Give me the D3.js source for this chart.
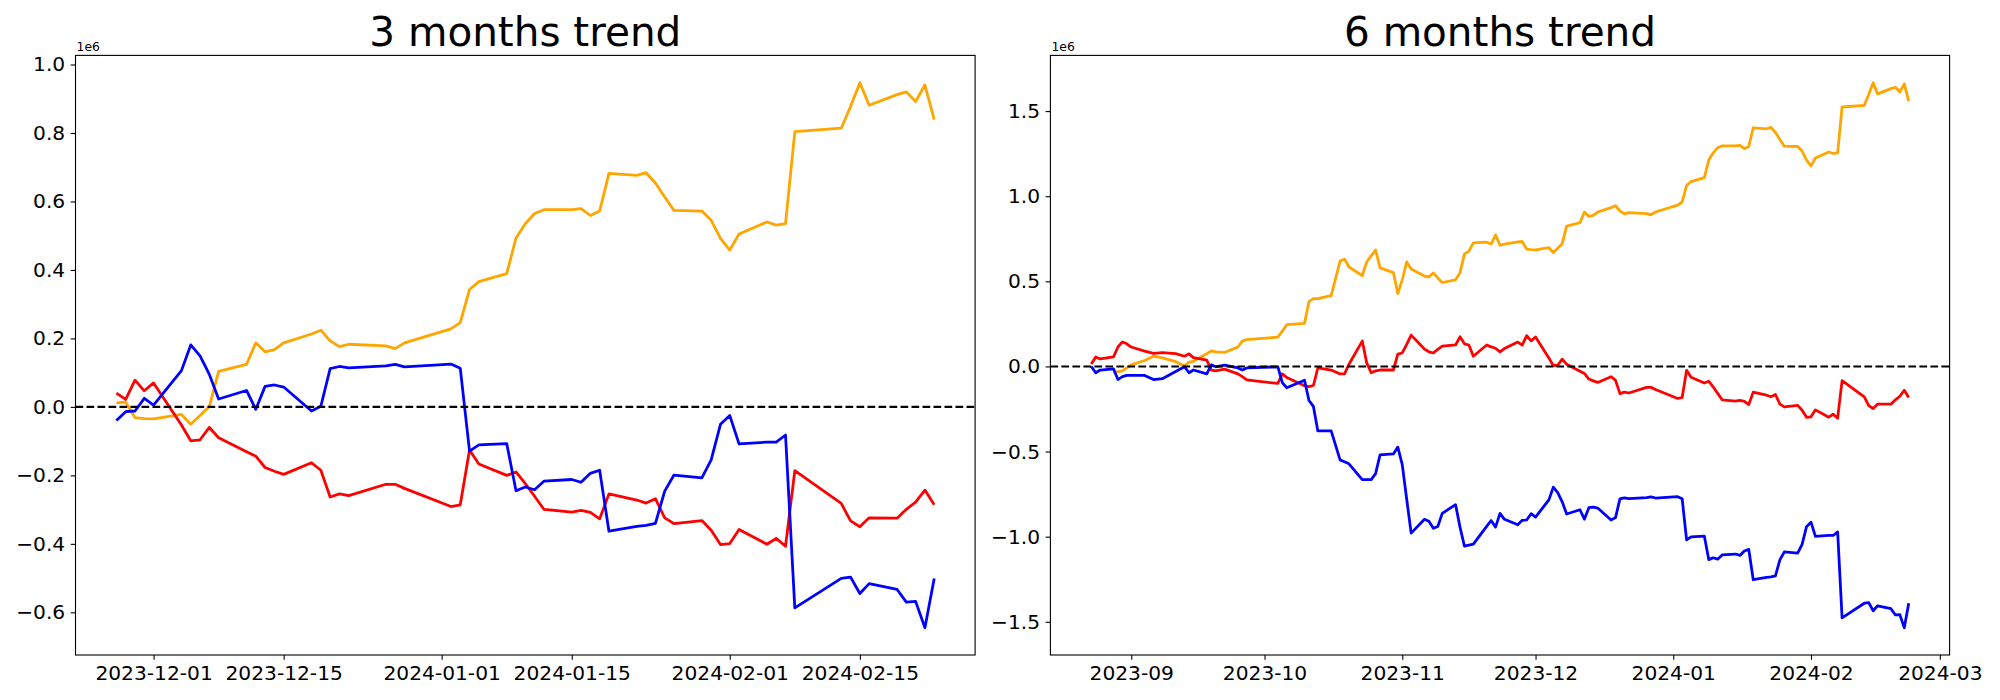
<!DOCTYPE html>
<html>
<head>
<meta charset="utf-8">
<script src="https://cdn.jsdelivr.net/npm/d3@7"></script>
<style>
  body { margin: 0; background: #fff; }
  svg { display: block; }
  text { font-family: "DejaVu Sans", sans-serif; fill: #000; }
</style>
</head>
<body>
<svg id="fig" width="2000" height="700"></svg>
<script>
// trading days of the last 3 months (values are in units of 1e6)
const dates3 = [
  "2023-11-27","2023-11-28","2023-11-29","2023-11-30","2023-12-01",
  "2023-12-04","2023-12-05","2023-12-06","2023-12-07","2023-12-08",
  "2023-12-11","2023-12-12","2023-12-13","2023-12-14","2023-12-15",
  "2023-12-18","2023-12-19","2023-12-20","2023-12-21","2023-12-22",
  "2023-12-26","2023-12-27","2023-12-28",
  "2024-01-02","2024-01-03","2024-01-04","2024-01-05",
  "2024-01-08","2024-01-09","2024-01-10","2024-01-11","2024-01-12",
  "2024-01-15","2024-01-16","2024-01-17","2024-01-18","2024-01-19",
  "2024-01-22","2024-01-23","2024-01-24","2024-01-25","2024-01-26",
  "2024-01-29","2024-01-30","2024-01-31","2024-02-01","2024-02-02",
  "2024-02-05","2024-02-06","2024-02-07","2024-02-08",
  "2024-02-13","2024-02-14","2024-02-15","2024-02-16",
  "2024-02-19","2024-02-20","2024-02-21","2024-02-22","2024-02-23"
];
const orange3 = [
  0.012, 0.014, -0.031, -0.034, -0.035,
  -0.022, -0.051, -0.025, 0.001, 0.104,
  0.124, 0.187, 0.161, 0.167, 0.187,
  0.213, 0.224, 0.193, 0.176, 0.183,
  0.178, 0.170, 0.187,
  0.228, 0.246, 0.343, 0.366,
  0.389, 0.493, 0.535, 0.565, 0.576,
  0.576, 0.579, 0.559, 0.572, 0.682,
  0.676, 0.684, 0.654, 0.613, 0.574,
  0.572, 0.545, 0.492, 0.458, 0.505,
  0.540, 0.531, 0.535, 0.804,
  0.814, 0.877, 0.947, 0.881,
  0.912, 0.920, 0.892, 0.940, 0.839
];
const red3 = [
  0.040, 0.022, 0.078, 0.047, 0.070,
  -0.053, -0.099, -0.096, -0.060, -0.090,
  -0.131, -0.144, -0.177, -0.188, -0.197,
  -0.163, -0.185, -0.263, -0.254, -0.259,
  -0.226, -0.226, -0.238,
  -0.291, -0.286, -0.126, -0.167,
  -0.200, -0.190, -0.224, -0.261, -0.299,
  -0.307, -0.302, -0.308, -0.327, -0.254,
  -0.272, -0.281, -0.268, -0.324, -0.341,
  -0.332, -0.360, -0.402, -0.399, -0.358,
  -0.401, -0.384, -0.407, -0.186,
  -0.282, -0.333, -0.350, -0.324,
  -0.325, -0.299, -0.278, -0.243, -0.286
];
const blue3 = [
  -0.040, -0.014, -0.012, 0.025, 0.005,
  0.106, 0.181, 0.149, 0.095, 0.023,
  0.048, -0.007, 0.060, 0.064, 0.058,
  -0.012, 0.002, 0.112, 0.118, 0.114,
  0.120, 0.124, 0.117,
  0.125, 0.113, -0.129, -0.111,
  -0.107, -0.245, -0.234, -0.242, -0.217,
  -0.212, -0.220, -0.194, -0.185, -0.363,
  -0.349, -0.346, -0.340, -0.246, -0.199,
  -0.207, -0.155, -0.051, -0.025, -0.108,
  -0.103, -0.103, -0.082, -0.587,
  -0.501, -0.497, -0.545, -0.516,
  -0.533, -0.570, -0.568, -0.645, -0.501
];

const datesEarly6 = [
  "2023-08-23","2023-08-24","2023-08-25","2023-08-28","2023-08-29","2023-08-30","2023-08-31",
  "2023-09-01","2023-09-04","2023-09-06","2023-09-08","2023-09-11","2023-09-13","2023-09-14",
  "2023-09-15","2023-09-18","2023-09-19","2023-09-20","2023-09-22","2023-09-25","2023-09-26",
  "2023-09-27","2023-10-04","2023-10-05","2023-10-06","2023-10-10","2023-10-11","2023-10-12",
  "2023-10-13","2023-10-16","2023-10-18","2023-10-19","2023-10-20","2023-10-23","2023-10-24",
  "2023-10-25","2023-10-26","2023-10-27","2023-10-30","2023-10-31","2023-11-01","2023-11-02",
  "2023-11-03","2023-11-06","2023-11-07","2023-11-08","2023-11-09","2023-11-10","2023-11-13",
  "2023-11-14","2023-11-15","2023-11-16","2023-11-17","2023-11-20","2023-11-21","2023-11-22",
  "2023-11-23","2023-11-24"
];
const dates6 = datesEarly6.concat(dates3);
const orange6 = [
  null, null, null, -0.037, -0.030, -0.026, -0.008,
  0.009, 0.035, 0.060, 0.050, 0.028, 0.002, 0.026,
  0.030, 0.075, 0.091, 0.085, 0.082, 0.114, 0.149,
  0.158, 0.172, 0.207, 0.245, 0.253, 0.381, 0.398,
  0.398, 0.416, 0.619, 0.630, 0.584, 0.533, 0.614,
  0.649, 0.684, 0.579, 0.551, 0.428, 0.509, 0.614,
  0.572, 0.531, 0.526, 0.549, 0.520, 0.493, 0.509,
  0.551, 0.660, 0.677, 0.726, 0.730, 0.719, 0.772,
  0.712, 0.719,
  0.732, 0.734, 0.689, 0.686, 0.685,
  0.698, 0.669, 0.695, 0.721, 0.824,
  0.844, 0.907, 0.881, 0.887, 0.907,
  0.933, 0.944, 0.913, 0.896, 0.903,
  0.898, 0.890, 0.907,
  0.948, 0.966, 1.063, 1.086,
  1.109, 1.213, 1.255, 1.285, 1.296,
  1.296, 1.299, 1.279, 1.292, 1.402,
  1.396, 1.404, 1.374, 1.333, 1.294,
  1.292, 1.265, 1.212, 1.178, 1.225,
  1.260, 1.251, 1.255, 1.524,
  1.534, 1.597, 1.667, 1.601,
  1.632, 1.640, 1.612, 1.660, 1.559
];
const red6 = [
  0.014, 0.056, 0.044, 0.056, 0.114, 0.144, 0.133,
  0.114, 0.090, 0.077, 0.081, 0.075, 0.060, 0.074,
  0.052, 0.037, -0.021, -0.026, -0.016, -0.044, -0.060,
  -0.079, -0.100, -0.044, -0.065, -0.114, -0.119, -0.112,
  -0.009, -0.021, -0.044, -0.044, 0.013, 0.149, 0.021,
  -0.037, -0.026, -0.021, -0.021, 0.072, 0.079, 0.130,
  0.184, 0.102, 0.086, 0.079, 0.100, 0.119, 0.126,
  0.174, 0.133, 0.126, 0.060, 0.126, 0.115, 0.107,
  0.086, 0.105,
  0.143, 0.125, 0.181, 0.150, 0.173,
  0.050, 0.004, 0.007, 0.043, 0.013,
  -0.028, -0.041, -0.074, -0.085, -0.094,
  -0.060, -0.082, -0.160, -0.151, -0.156,
  -0.123, -0.123, -0.135,
  -0.188, -0.183, -0.023, -0.064,
  -0.097, -0.087, -0.121, -0.158, -0.196,
  -0.204, -0.199, -0.205, -0.224, -0.151,
  -0.169, -0.178, -0.165, -0.221, -0.238,
  -0.229, -0.257, -0.299, -0.296, -0.255,
  -0.298, -0.281, -0.304, -0.083,
  -0.179, -0.230, -0.247, -0.221,
  -0.222, -0.196, -0.175, -0.140, -0.183
];
const blue6 = [
  0.000, -0.037, -0.021, -0.014, -0.077, -0.060, -0.053,
  -0.053, -0.053, -0.077, -0.072, -0.030, -0.002, -0.037,
  -0.021, -0.044, 0.009, -0.002, 0.008, -0.009, -0.021,
  -0.009, -0.002, -0.095, -0.125, -0.081, -0.200, -0.235,
  -0.379, -0.379, -0.549, -0.560, -0.572, -0.665, -0.665,
  -0.665, -0.630, -0.519, -0.514, -0.474, -0.577, -0.780,
  -0.979, -0.898, -0.909, -0.951, -0.940, -0.863, -0.812,
  -0.944, -1.056, -1.050, -1.044, -0.940, -0.905, -0.944,
  -0.863, -0.898,
  -0.930, -0.904, -0.902, -0.865, -0.885,
  -0.784, -0.709, -0.741, -0.795, -0.867,
  -0.842, -0.897, -0.830, -0.826, -0.832,
  -0.902, -0.888, -0.778, -0.772, -0.776,
  -0.770, -0.766, -0.773,
  -0.765, -0.777, -1.019, -1.001,
  -0.997, -1.135, -1.124, -1.132, -1.107,
  -1.102, -1.110, -1.084, -1.075, -1.253,
  -1.239, -1.236, -1.230, -1.136, -1.089,
  -1.097, -1.045, -0.941, -0.915, -0.998,
  -0.993, -0.993, -0.972, -1.477,
  -1.391, -1.387, -1.435, -1.406,
  -1.423, -1.460, -1.458, -1.535, -1.391
];

const xTicks3 = ["2023-12-01", "2023-12-15", "2024-01-01", "2024-01-15", "2024-02-01", "2024-02-15"];
const xTicks6 = ["2023-09-01", "2023-10-01", "2023-11-01", "2023-12-01", "2024-01-01", "2024-02-01", "2024-03-01"];
const yTicks3 = [-0.6, -0.4, -0.2, 0.0, 0.2, 0.4, 0.6, 0.8, 1.0];
const yTicks6 = [-1.5, -1.0, -0.5, 0.0, 0.5, 1.0, 1.5];

const parseDate = d3.utcParse("%Y-%m-%d");
const svg = d3.select("#fig");

function drawPanel(opts) {
  const { title, dates, series, xTicks, xFormat, yTicks, left, right } = opts;
  const top = 55.4, bottom = 655;
  const times = dates.map(parseDate);

  // matplotlib style 5% margins
  const [t0, t1] = d3.extent(times);
  const tPad = (t1 - t0) * 0.05;
  const x = d3.scaleUtc()
    .domain([new Date(+t0 - tPad), new Date(+t1 + tPad)])
    .range([left, right]);

  const allVals = series.flatMap((s) => s.values).filter((v) => v != null);
  const [v0, v1] = d3.extent(allVals);
  const vPad = (v1 - v0) * 0.05;
  const y = d3.scaleLinear().domain([v0 - vPad, v1 + vPad]).range([bottom, top]);

  const g = svg.append("g");

  const line = d3.line()
    .defined((d) => d.v != null)
    .x((d) => x(d.t))
    .y((d) => y(d.v));

  series.forEach((s) => {
    g.append("path")
      .datum(times.map((t, i) => ({ t, v: s.values[i] })))
      .attr("fill", "none")
      .attr("stroke", s.color)
      .attr("stroke-width", 2.78)
      .attr("stroke-linejoin", "round")
      .attr("stroke-linecap", "butt")
      .attr("d", line);
  });

  // zero reference line
  g.append("line")
    .attr("x1", left)
    .attr("x2", right)
    .attr("y1", y(0))
    .attr("y2", y(0))
    .attr("stroke", "#000")
    .attr("stroke-width", 2.08)
    .attr("stroke-dasharray", "7.7,3.3");

  // axes
  const xAxis = g.append("g")
    .attr("transform", `translate(0,${bottom})`)
    .call(d3.axisBottom(x)
      .tickValues(xTicks.map(parseDate))
      .tickFormat(d3.utcFormat(xFormat))
      .tickSize(4.8)
      .tickPadding(5.5));
  const yAxis = g.append("g")
    .attr("transform", `translate(${left},0)`)
    .call(d3.axisLeft(y)
      .tickValues(yTicks)
      .tickFormat((d) => d.toFixed(1).replace("-", "\u2212"))
      .tickSize(4.8)
      .tickPadding(5.5));
  [xAxis, yAxis].forEach((a) => {
    a.select(".domain").remove();
    a.selectAll("line").attr("stroke", "#000").attr("stroke-width", 1.1);
    a.selectAll("text")
      .attr("font-family", "DejaVu Sans, sans-serif")
      .attr("font-size", 20.2)
      .attr("fill", "#000");
  });

  g.append("rect")
    .attr("x", left)
    .attr("y", top)
    .attr("width", right - left)
    .attr("height", bottom - top)
    .attr("fill", "none")
    .attr("stroke", "#000")
    .attr("stroke-width", 1.1);

  g.append("text")
    .attr("x", left + 1)
    .attr("y", top - 4.4)
    .attr("font-size", 12.4)
    .text("1e6");

  g.append("text")
    .attr("x", (left + right) / 2)
    .attr("y", top - 9.4)
    .attr("text-anchor", "middle")
    .attr("font-size", 40.5)
    .text(title);
}

drawPanel({
  title: "3 months trend",
  dates: dates3,
  series: [
    { values: orange3, color: "orange" },
    { values: red3, color: "red" },
    { values: blue3, color: "blue" },
  ],
  xTicks: xTicks3,
  xFormat: "%Y-%m-%d",
  yTicks: yTicks3,
  left: 75.5,
  right: 975.1,
});

drawPanel({
  title: "6 months trend",
  dates: dates6,
  series: [
    { values: orange6, color: "orange" },
    { values: red6, color: "red" },
    { values: blue6, color: "blue" },
  ],
  xTicks: xTicks6,
  xFormat: "%Y-%m",
  yTicks: yTicks6,
  left: 1050.4,
  right: 1949.6,
});
</script>
</body>
</html>
